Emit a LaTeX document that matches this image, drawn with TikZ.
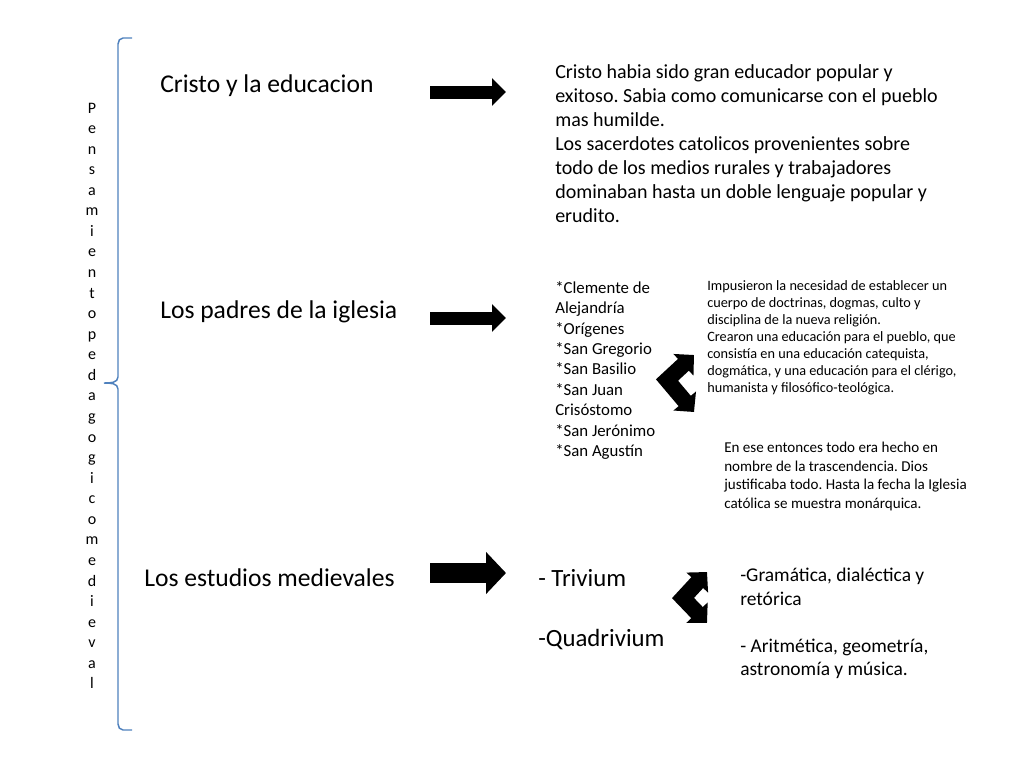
\documentclass[tikz,border=0pt]{standalone}
\usepackage{fontspec}
\setmainfont{Carlito}
\usetikzlibrary{arrows.meta}
\frenchspacing

\definecolor{azulllave}{RGB}{79,129,189}

\begin{document}
\begin{tikzpicture}[x=0.75pt,y=-0.75pt,
  titulo/.style={anchor=base west, inner sep=0pt, font=\fontsize{19.2}{23}\selectfont},
  texto/.style={anchor=north west, inner sep=0pt, align=left},
  flecha/.style={line width=9.75pt, -{Triangle[width=20.25pt,length=10.5pt]}},
  codo/.style={line width=12pt, line join=miter, {Triangle[width=21.5pt,length=10.8pt]}-{Triangle[width=21.5pt,length=10.8pt]}},
  letra/.style={anchor=base, inner sep=0pt, font=\fontsize{12}{14}\selectfont}]
\useasboundingbox (0,0) rectangle (1024,768);
% llave
\draw[azulllave, line width=1.1pt] (132,38) -- (123,38) to[out=180,in=90] (118,44) -- (118,377)
  to[out=-90,in=0] (104,383) to[out=0,in=90] (118,389) -- (118,724) to[out=-90,in=180] (123,730) -- (132,730);
\foreach \l [count=\i] in {P,e,n,s,a,m,i,e,n,t,o,p,e,d,a,g,o,g,i,c,o,m,e,d,i,e,v,a,l}
  \node[letra] (v\i) at (92,{113+20.57*(\i-1)}) {\l};
% titulos
\node[titulo] (cristo) at (160,92) {Cristo y la educacion};
\node[titulo] (padres) at (160,318) {Los padres de la iglesia};
\node[titulo] (estudios) at (144,586) {Los estudios medievales};
% flechas
\coordinate (f1a) at (430,92);
\coordinate (f1b) at (506,92);
\draw[flecha] (f1a) -- (f1b);
\coordinate (f2a) at (430,318);
\coordinate (f2b) at (506,318);
\draw[flecha] (f2a) -- (f2b);
\coordinate (f3a) at (430,573);
\coordinate (f3b) at (506,573);
\draw[flecha, line width=15pt, -{Triangle[width=30.75pt,length=15pt]}] (f3a) -- (f3b);
% textos
\node[texto, font=\fontsize{15}{18}\selectfont] (educador) at (555,64) {Cristo habia sido gran educador popular y\\
exitoso. Sabia como comunicarse con el pueblo\\
mas humilde.\\
Los sacerdotes catolicos provenientes sobre\\
todo de los medios rurales y trabajadores\\
dominaban hasta un doble lenguaje popular y\\
erudito.};
\node[texto, font=\fontsize{12.6}{15.3}\selectfont] (santos) at (555,281) {*Clemente de\\
Alejandría\\
*Orígenes\\
*San Gregorio\\
*San Basilio\\
*San Juan\\
Crisóstomo\\
*San Jerónimo\\
*San Agustín};
\node[texto, font=\fontsize{10.7}{12.75}\selectfont] (doctrina) at (707,280) {Impusieron la necesidad de establecer un\\
cuerpo de doctrinas, dogmas, culto y\\
disciplina de la nueva religión.\\
Crearon una educación para el pueblo, que\\
consistía en una educación catequista,\\
dogmática, y una educación para el clérigo,\\
humanista y filosófico-teológica.};
\node[texto, font=\fontsize{11.3}{13.9}\selectfont] (trasc) at (724,442) {En ese entonces todo era hecho en\\
nombre de la trascendencia. Dios\\
justificaba todo. Hasta la fecha la Iglesia\\
católica se muestra monárquica.};
\node[titulo, font=\fontsize{18.6}{22}\selectfont] (trivium) at (538,586) {- Trivium};
\node[titulo, font=\fontsize{18.6}{22}\selectfont] (quadri) at (538,646) {-Quadrivium};
\node[texto, font=\fontsize{14.6}{17.6}\selectfont] (artes) at (740,568) {-Gramática, dialéctica y\\
retórica\\[17.6pt]
- Aritmética, geometría,\\
astronomía y música.};
% codos
\coordinate (c1a) at (694,355);
\coordinate (c1b) at (667,380);
\coordinate (c1c) at (694,412);
\draw[codo] (c1a) -- (c1b) -- (c1c);
\coordinate (c2a) at (707,572);
\coordinate (c2b) at (683,598);
\coordinate (c2c) at (707,623);
\draw[codo] (c2a) -- (c2b) -- (c2c);
\end{tikzpicture}
\end{document}
